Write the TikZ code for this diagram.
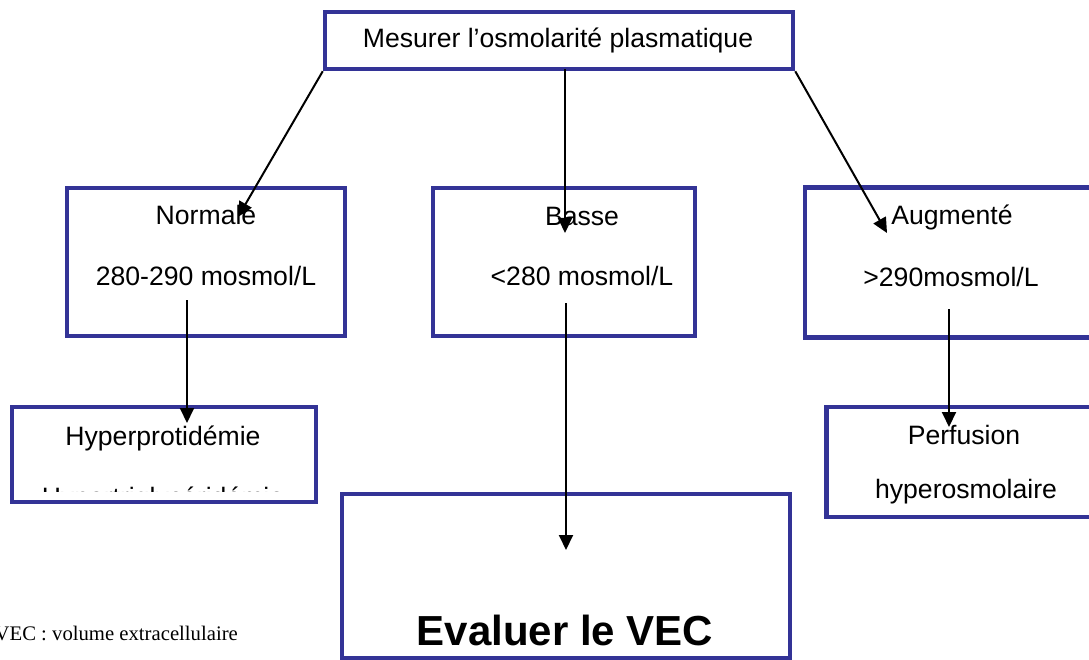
\documentclass[tikz,border=0pt]{standalone}
\usepackage{fontspec}
\setmainfont{Liberation Sans}
\newfontfamily\notefont{Liberation Serif}
\usetikzlibrary{arrows.meta}
\definecolor{boxblue}{RGB}{51,51,150}
\tikzset{
  frame/.style={draw=boxblue, line width=4.5pt, inner sep=0pt, rectangle},
  lbl/.style={anchor=base, inner sep=0pt, font=\fontsize{26.6}{30}\selectfont},
  link/.style={line width=2pt, -{Triangle[width=14pt,length=15pt]}}
}
\begin{document}
\begin{tikzpicture}[x=1pt,y=-1pt]
\useasboundingbox (0,0) rectangle (1089,660);

% frames
\node[frame, minimum width=468pt, minimum height=57pt] (top) at (559,40.5) {};
\node[frame, minimum width=278pt, minimum height=148pt] (normale) at (206,262) {};
\node[frame, minimum width=262pt, minimum height=148pt] (basse) at (564,262) {};
\node[frame, minimum width=290pt, minimum height=150pt] (augm) at (950,262.5) {};
\node[frame, minimum width=304pt, minimum height=95pt] (hyper) at (164,454.5) {};
\node[frame, minimum width=273pt, minimum height=110pt] (perf) at (963,462) {};
\node[frame, minimum width=448pt, minimum height=164pt] (vec) at (566,576) {};

% labels
\node[lbl] (ttop) at (558,48) {Mesurer l’osmolarité plasmatique};
\node[lbl] (tnorm1) at (206,225) {Normale};
\node[lbl] (tnorm2) at (206,286) {280-290 mosmol/L};
\node[lbl] (tbas1) at (582,226) {Basse};
\node[lbl] (tbas2) at (582,286) {<280 mosmol/L};
\node[lbl] (taug1) at (952,225) {Augmenté};
\node[lbl] (taug2) at (951,287) {>290mosmol/L};
\node[lbl] (thyp1) at (163,445) {Hyperprotidémie};
\begin{scope}
  \clip (0,400) rectangle (330,491);
  \node[lbl] (thyp2) at (163,506) {Hypertriglycéridémie};
\end{scope}
\node[lbl] (tperf1) at (964,444) {Perfusion};
\node[lbl] (tperf2) at (966,498) {hyperosmolaire};
\node[anchor=base, inner sep=0pt, font=\fontsize{42}{46}\selectfont\bfseries] (tvec) at (565,645) {Evaluer le VEC};
\node[anchor=base east, inner sep=0pt, font=\notefont\fontsize{20.7}{24}\selectfont] (note) at (238,640) {VEC : volume extracellulaire};

% connector ends
\coordinate (tipN) at (238,217);
\coordinate (tipB) at (565,233);
\coordinate (tipA) at (887,233);
\coordinate (midtop) at (565,69);
\coordinate (srcN) at (187,300);
\coordinate (tipH) at (187,423);
\coordinate (srcB) at (566,303);
\coordinate (tipV) at (566,550);
\coordinate (srcA) at (949,309);
\coordinate (tipP) at (949,427);

% connectors
\draw[link] (top.south west) -- (tipN);
\draw[link] (midtop) -- (tipB);
\draw[link] (top.south east) -- (tipA);
\draw[link] (srcN) -- (tipH);
\draw[link] (srcB) -- (tipV);
\draw[link] (srcA) -- (tipP);
\end{tikzpicture}
\end{document}
